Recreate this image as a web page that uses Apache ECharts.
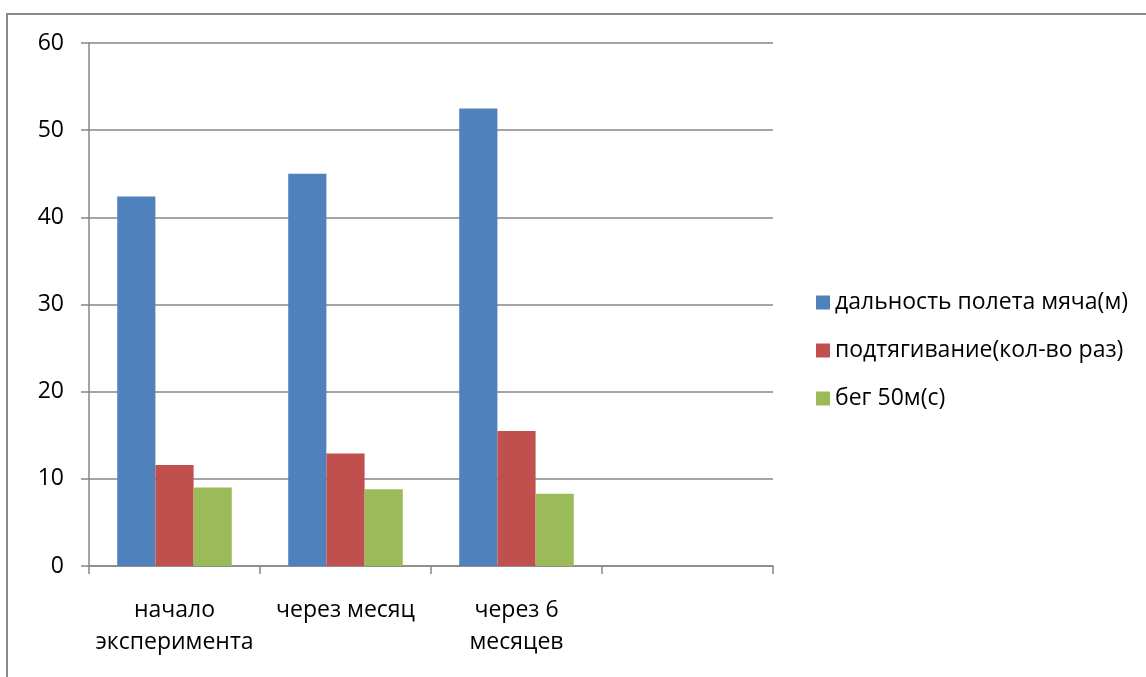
<!DOCTYPE html>
<html>
<head>
<meta charset="utf-8">
<script src="https://cdn.jsdelivr.net/npm/echarts@6/dist/echarts.min.js"></script>
<style>html,body{margin:0;padding:0;background:#fff}#c{width:1146px;height:677px}</style>
</head>
<body>
<div id="c"></div>
<script>
const categories = ['начало\nэксперимента', 'через месяц', 'через 6\nмесяцев', ''];
const seriesNames = ['дальность полета мяча(м)', 'подтягивание(кол-во раз)', 'бег 50м(с)'];
const ballDistance = [42.4, 45.0, 52.5, null];
const pullUps = [11.6, 12.9, 15.5, null];
const run50m = [9.0, 8.8, 8.3, null];
const colors = ['#4F81BD', '#C0504D', '#9BBB59'];

const FONT = 'Open Sans';
const chart = echarts.init(document.getElementById('c'), null, {renderer: 'canvas'});
const mk = (name, data, i) => ({
  name, type: 'bar', data, barGap: '0%', barCategoryGap: '33%',
  itemStyle: {color: colors[i]}
});
chart.setOption({
  animation: false,
  textStyle: {fontFamily: FONT},
  graphic: [{
    type: 'rect', shape: {x: 7, y: 14, width: 1300, height: 800},
    style: {fill: 'none', stroke: '#8a8a8a', lineWidth: 2}, silent: true, z: -1
  }],
  grid: {left: 89, right: 373, top: 43, bottom: 111, containLabel: false},
  legend: {
    orient: 'vertical', left: 816, top: 291, padding: 0,
    itemWidth: 14, itemHeight: 14, itemGap: 25, icon: 'rect',
    textStyle: {fontFamily: FONT, fontSize: 23, color: '#000'},
    data: seriesNames
  },
  xAxis: {
    type: 'category', data: categories,
    axisLine: {lineStyle: {color: '#868686', width: 1.5}},
    axisTick: {show: true, alignWithLabel: false, length: 8, inside: false, lineStyle: {color: '#868686', width: 1.5}},
    axisLabel: {fontFamily: FONT, fontSize: 23, color: '#000', margin: 28, lineHeight: 32, interval: 0}
  },
  yAxis: {
    type: 'value', min: 0, max: 60, interval: 10,
    axisLine: {show: true, lineStyle: {color: '#868686', width: 1.5}},
    axisTick: {show: true, length: 8, lineStyle: {color: '#868686', width: 1.5}},
    splitLine: {show: true, lineStyle: {color: '#868686', width: 1.5}},
    axisLabel: {fontFamily: FONT, fontSize: 23, color: '#000', margin: 25}
  },
  series: [mk(seriesNames[0], ballDistance, 0), mk(seriesNames[1], pullUps, 1), mk(seriesNames[2], run50m, 2)]
});
</script>
</body>
</html>
